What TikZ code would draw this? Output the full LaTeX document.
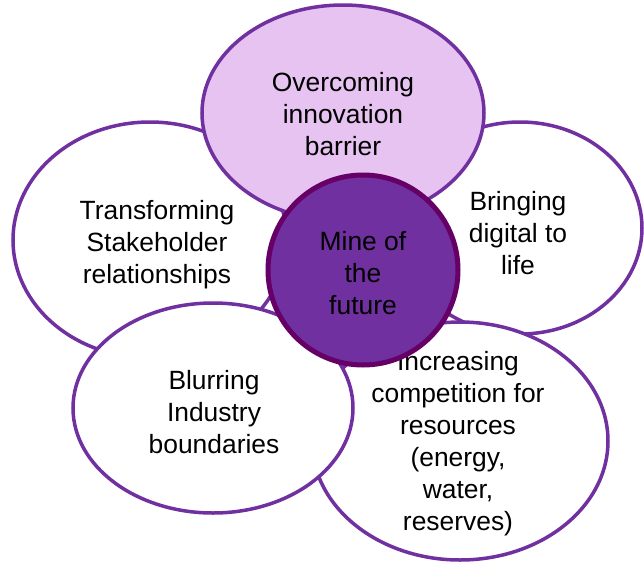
\documentclass[tikz,border=0pt]{standalone}
\usepackage{fontspec}
\setmainfont{Liberation Sans}

\definecolor{petalline}{HTML}{7030A0}
\definecolor{petalfill}{HTML}{E6C3F0}
\definecolor{hubfill}{HTML}{7030A0}
\definecolor{hubline}{HTML}{660066}

\tikzset{
  petal/.style ={draw=petalline, line width=1.75pt, fill=white},
  hub/.style   ={draw=hubline, line width=2.5pt, fill=hubfill},
  topic/.style ={align=center, inner sep=0pt, font=\fontsize{13.2}{16}\selectfont}
}

\begin{document}
\begin{tikzpicture}[x=0.5pt, y=-0.5pt]
    \useasboundingbox (0,0) rectangle (644,563);

    % left petal
    \draw[petal] (150,240) ellipse (137 and 118);
    \node[topic] (stake) at (157,245) {Transforming\\Stakeholder\\relationships};

    % right petal
    \draw[petal] (520,228) ellipse (122 and 106);
    \node[topic] (digital) at (518,233) {Bringing\\digital to\\life};

    % top petal (highlighted)
    \draw[petal, fill=petalfill] (343,113) ellipse (141 and 108);
    \node[topic] (barrier) at (343,114) {Overcoming\\innovation\\barrier};

    % bottom right petal
    \draw[petal] (460,441) ellipse (148 and 119);
    \node[topic] (compete) at (458,444) {Increasing\\competition for\\resources\\(energy,\\water,\\reserves)};

    % bottom left petal
    \draw[petal] (213,408) ellipse (140 and 105);
    \node[topic] (blur) at (214,412) {Blurring\\Industry\\boundaries};

    % centre hub
    \draw[hub] (363,270) circle (95);
    \node[topic] (mine) at (363,273) {Mine of\\the\\future};
\end{tikzpicture}
\end{document}
